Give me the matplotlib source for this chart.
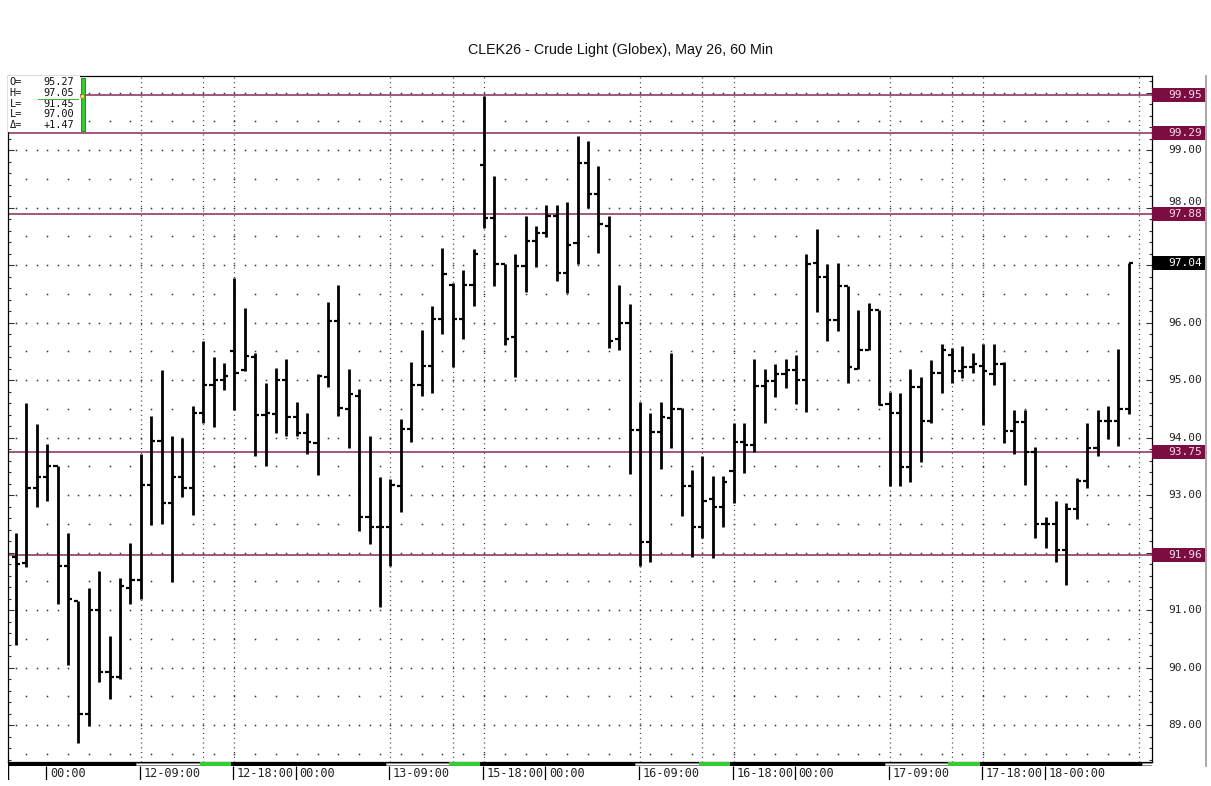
import matplotlib
matplotlib.use("Agg")
import matplotlib.pyplot as plt
import matplotlib.transforms as mtransforms
from matplotlib.patches import Rectangle
from matplotlib.lines import Line2D
import numpy as np

# hourly OHLC bars
opens = [91.92, 91.82, 93.13, 93.31, 93.51, 91.77, 91.16, 89.20, 91.00, 89.92,
         89.84, 91.38, 91.52, 93.17, 93.94, 92.86, 93.31, 93.12, 94.42, 94.91,
         95.00, 95.50, 95.17, 95.40, 94.39, 94.41, 95.00, 94.35, 94.08, 93.91,
         95.06, 96.03, 94.50, 94.73, 92.62, 92.45, 92.44, 93.16, 94.14, 94.91,
         95.24, 96.06, 96.66, 96.06, 96.65, 98.74, 97.81, 97.01, 95.74, 96.98,
         97.41, 97.56, 97.85, 96.86, 97.38, 98.78, 98.23, 97.67, 95.71, 95.99,
         94.13, 92.18, 94.10, 94.34, 94.49, 93.15, 92.45, 92.93, 92.80, 93.41,
         93.93, 93.87, 94.90, 94.99, 95.10, 95.17, 95.00, 97.03, 96.79, 96.04,
         96.63, 95.20, 95.52, 96.21, 94.59, 94.42, 93.49, 94.87, 94.28, 95.13,
         95.43, 95.15, 95.22, 95.25, 95.10, 95.27, 94.11, 94.27, 93.75, 92.50,
         92.50, 92.04, 92.75, 93.25, 93.81, 94.29, 94.28, 94.50]
highs = [92.34, 94.60, 94.23, 93.89, 93.51, 92.34, 91.16, 91.38, 91.67, 90.54,
         91.55, 92.17, 93.71, 94.37, 95.17, 94.03, 94.00, 94.55, 95.68, 95.40,
         95.30, 96.77, 96.25, 95.47, 94.95, 95.21, 95.36, 94.62, 94.43, 95.10,
         96.35, 96.66, 95.19, 94.84, 94.03, 93.32, 93.27, 94.33, 95.32, 95.87,
         96.29, 97.29, 96.68, 96.91, 97.27, 99.94, 98.55, 97.01, 97.19, 97.85,
         97.68, 98.04, 98.04, 98.10, 99.24, 99.16, 98.72, 97.85, 96.65, 96.32,
         94.62, 94.42, 94.62, 95.47, 94.51, 93.43, 93.68, 93.33, 93.33, 94.26,
         94.26, 95.36, 95.20, 95.27, 95.36, 95.43, 97.20, 97.62, 97.02, 97.04,
         96.63, 96.22, 96.34, 96.21, 94.80, 94.78, 95.20, 95.05, 95.35, 95.63,
         95.56, 95.60, 95.47, 95.63, 95.63, 95.32, 94.47, 94.47, 93.84, 92.61,
         92.90, 92.86, 93.29, 94.25, 94.47, 94.54, 95.54, 97.03]
lows = [90.39, 91.75, 92.80, 92.89, 91.10, 90.04, 88.68, 88.98, 89.75, 89.46,
        89.80, 91.10, 91.20, 92.48, 92.50, 91.48, 92.97, 92.65, 94.26, 94.19,
        94.83, 94.48, 95.16, 93.67, 93.50, 94.07, 94.02, 94.02, 93.71, 93.34,
        94.87, 94.37, 93.81, 92.38, 92.15, 91.06, 91.77, 92.71, 93.93, 94.72,
        94.77, 95.80, 95.22, 95.71, 96.29, 97.64, 96.63, 95.61, 95.06, 96.53,
        96.97, 97.48, 96.73, 96.52, 97.02, 97.99, 97.21, 95.55, 95.52, 93.37,
        91.77, 91.84, 93.46, 93.81, 92.63, 91.93, 92.26, 91.90, 92.45, 92.86,
        93.38, 93.74, 94.25, 94.70, 94.86, 94.58, 94.45, 96.19, 95.68, 95.85,
        94.94, 95.20, 95.52, 94.57, 93.16, 93.16, 93.23, 93.57, 94.26, 94.78,
        94.95, 95.03, 95.13, 94.22, 94.91, 93.90, 93.71, 93.17, 92.26, 92.07,
        91.83, 91.43, 92.58, 93.13, 93.67, 93.97, 93.85, 94.41]
closes = [91.80, 93.13, 93.31, 93.51, 91.77, 91.20, 89.20, 91.00, 89.92, 89.84,
          91.41, 91.52, 93.17, 93.94, 92.86, 93.31, 93.12, 94.42, 94.91, 95.00,
          95.07, 95.13, 95.42, 94.39, 94.42, 95.00, 94.36, 94.08, 93.92, 95.07,
          96.03, 94.51, 94.76, 92.62, 92.45, 92.44, 93.17, 94.14, 94.91, 95.24,
          96.06, 96.84, 96.06, 96.65, 97.19, 97.81, 97.01, 95.71, 96.98, 97.41,
          97.56, 97.85, 96.86, 97.35, 98.78, 98.23, 97.71, 95.67, 95.99, 94.13,
          92.19, 94.10, 94.35, 94.49, 93.16, 92.45, 92.90, 92.80, 93.22, 93.93,
          93.87, 94.90, 94.99, 95.10, 95.17, 95.00, 97.01, 96.79, 96.04, 96.63,
          95.22, 95.52, 96.21, 94.57, 94.42, 93.49, 94.87, 94.28, 95.13, 95.52,
          95.15, 95.22, 95.28, 95.15, 95.28, 94.11, 94.27, 93.75, 92.50, 92.50,
          92.04, 92.75, 93.25, 93.81, 94.28, 94.28, 94.50, 97.03]

# time axis labels (bar index, text)
label_idx = [3, 12, 21, 27, 36, 45, 51, 60, 69, 75, 84, 93, 99]
label_txt = ["00:00", "12-09:00", "12-18:00", "00:00", "13-09:00", "15-18:00", "00:00",
             "16-09:00", "16-18:00", "00:00", "17-09:00", "17-18:00", "18-00:00"]
grid_idx = [12, 18, 21, 36, 42, 45, 60, 66, 69, 84, 90, 93, 108]
day_start_idx = [12, 36, 60, 84]  # 09:00 bars

# horizontal level lines and their boxes
levels = [99.95, 99.29, 97.88, 93.75, 91.96]
last_price = 97.04
price_ticks = [89, 90, 91, 92, 93, 94, 95, 96, 97, 98, 99]

# ohlc legend
legend_keys = ["O=", "H=", "L=", "L=", "\u0394="]
legend_vals = ["95.27", "97.05", "91.45", "97.00", "+1.47"]

W, H = 1211, 786
fig = plt.figure(figsize=(W / 100, H / 100), dpi=100)
L_PX, R_PX, T_PX, B_PX = 8, 1152, 76, 762
ax = fig.add_axes([L_PX / W, 1 - B_PX / H, (R_PX - L_PX) / W, (B_PX - T_PX) / H])

MAROON = "#7c0d40"
MONO = ["DejaVu Sans Mono"]
SANS = ["Liberation Sans", "DejaVu Sans"]

n = len(opens)
x = np.arange(n)
ax.set_xlim(-0.77, 109.23)
ax.set_ylim(88.357, 100.287)

# dotted grid rows: dense on whole numbers, sparse on halves
gx = np.arange(0, 109)
for lvl in np.arange(89, 100.5, 1.0):
    ax.plot(gx, [lvl] * len(gx), ls="none", marker="s", ms=1.1, mew=0, color="#333333", zorder=1)
for lvl in np.arange(88.5, 100.0, 1.0):
    ax.plot(gx[1::2], [lvl] * len(gx[1::2]), ls="none", marker="s", ms=1.1, mew=0,
            color="#333333", zorder=1)
for gi in grid_idx:
    ax.axvline(gi, color="#333333", lw=0.9, ls=(0, (0.8, 3.0)), zorder=1)

# level lines
for lvl in levels:
    ax.axhline(lvl, color="#8a2858", lw=1.1, zorder=2)

# ohlc bars
ax.vlines(x, lows, highs, color="black", lw=2.0, zorder=4)
ax.hlines(opens, x - 0.4, x, color="black", lw=1.6, zorder=4)
ax.hlines(closes, x, x + 0.4, color="black", lw=1.6, zorder=4)

# spines / ticks
for s in ["left", "top", "right", "bottom"]:
    ax.spines[s].set_color("black")
    ax.spines[s].set_linewidth(0.9)
ax.set_xticks([])
ax.yaxis.set_ticks_position("both")
ax.set_yticks(np.arange(89, 100.1, 1.0))
ax.set_yticks(np.arange(88.4, 100.3, 0.2), minor=True)
ax.tick_params(axis="y", which="major", direction="in", length=4, width=0.8,
               labelleft=False, labelright=False, color="#333333")
ax.tick_params(axis="y", which="minor", direction="in", length=2.5, width=0.8, color="#333333")

# right price labels
trans = mtransforms.blended_transform_factory(ax.transAxes, ax.transData)
ax_w = R_PX - L_PX
ax_h = B_PX - T_PX
for p in price_ticks:
    # the 98.00 label sits a bit high so the 97.88 box only clips its lower half
    py = p + 0.1 if p == 98 else p
    ax.text((1202 - L_PX) / ax_w, py, "%.2f" % p, transform=trans, ha="right", va="center",
            fontsize=8, family=MONO, color="#222222", clip_on=False, zorder=3)

box_h = 14 / 57.5
def price_box(val, face, tc):
    ax.add_patch(Rectangle((1.0, val - box_h / 2), (1205 - R_PX) / ax_w, box_h, transform=trans,
                           facecolor=face, edgecolor="none", clip_on=False, zorder=5))
    ax.text((1202 - L_PX) / ax_w, val, "%.2f" % val, transform=trans, ha="right", va="center",
            fontsize=8, family=MONO, color=tc, clip_on=False, zorder=6)

for lvl in levels:
    price_box(lvl, MAROON, "#f6dbe8")
price_box(last_price, "black", "white")

# legend block top-left
axf = ax.transAxes
ax.add_patch(Rectangle((0, 1 - 56 / ax_h), 72 / ax_w, 56 / ax_h, transform=axf,
                       facecolor="white", edgecolor="none", zorder=6))
row_y = [82, 92.8, 103.6, 114.4, 125.2]
for k, v, ry in zip(legend_keys, legend_vals, row_y):
    fy = 1 - (ry - T_PX) / ax_h
    ax.text(1.5 / ax_w, fy, k, transform=axf, ha="left", va="center", fontsize=7.4,
            family=MONO, color="#111111", zorder=7)
    ax.text(66 / ax_w, fy, v, transform=axf, ha="right", va="center", fontsize=7.4,
            family=MONO, color="#111111", zorder=7)
ax.add_patch(Rectangle((73 / ax_w, 1 - (131 - T_PX) / ax_h), 4 / ax_w, 53 / ax_h,
                       transform=axf, facecolor="#33cc33", edgecolor="#187a18", lw=0.6, zorder=7))
ax.add_line(Line2D([30 / ax_w, 70 / ax_w], [1 - 22.5 / ax_h] * 2, transform=axf,
                   color="#33bb33", lw=0.7, zorder=7))
ax.plot([73.5 / ax_w], [1 - 20 / ax_h], transform=axf, marker="o", ms=3,
        mfc="#f2e05a", mec="#8a7a10", mew=0.5, zorder=8, clip_on=False)

# time axis strip
ax2 = fig.add_axes([L_PX / W, 1 - 780 / H, (R_PX - L_PX) / W, 18 / H])
ax2.set_xlim(ax.get_xlim())
ax2.set_ylim(18, 0)
ax2.axis("off")
ax2.add_patch(Rectangle((-0.77, 0), 110, 4, facecolor="black", edgecolor="none"))
for d in day_start_idx:
    ax2.add_patch(Rectangle((d - 0.45, 0.6), 6.1, 2.8, facecolor="white", edgecolor="#888888", lw=0.6))
    ax2.add_patch(Rectangle((d + 5.65, 0.4), 3.0, 3.2, facecolor="#33cc33", edgecolor="none"))
ax2.add_patch(Rectangle((108.3, 0.6), 0.9, 2.8, facecolor="white", edgecolor="#888888", lw=0.6))
ax2.vlines([-0.77], 0, 18, color="black", lw=1.0)
ax2.vlines(np.array(label_idx) - 0.1, 4, 18, color="black", lw=0.9)
for li, lt in zip(label_idx, label_txt):
    ax2.text(li + 0.25, 11.5, lt, ha="left", va="center", fontsize=8.6, family=MONO, color="#222222")

# right panel border
fig.add_artist(Line2D([1206 / W, 1206 / W], [1 - 76 / H, 1 - 766 / H], color="#999999", lw=1.2))

fig.text(621 / W, 1 - 50 / H, "CLEK26 - Crude Light (Globex), May 26, 60 Min", ha="center",
         va="center", fontsize=10.3, family=SANS, color="#111111")

fig.savefig("out.png", dpi=100)
